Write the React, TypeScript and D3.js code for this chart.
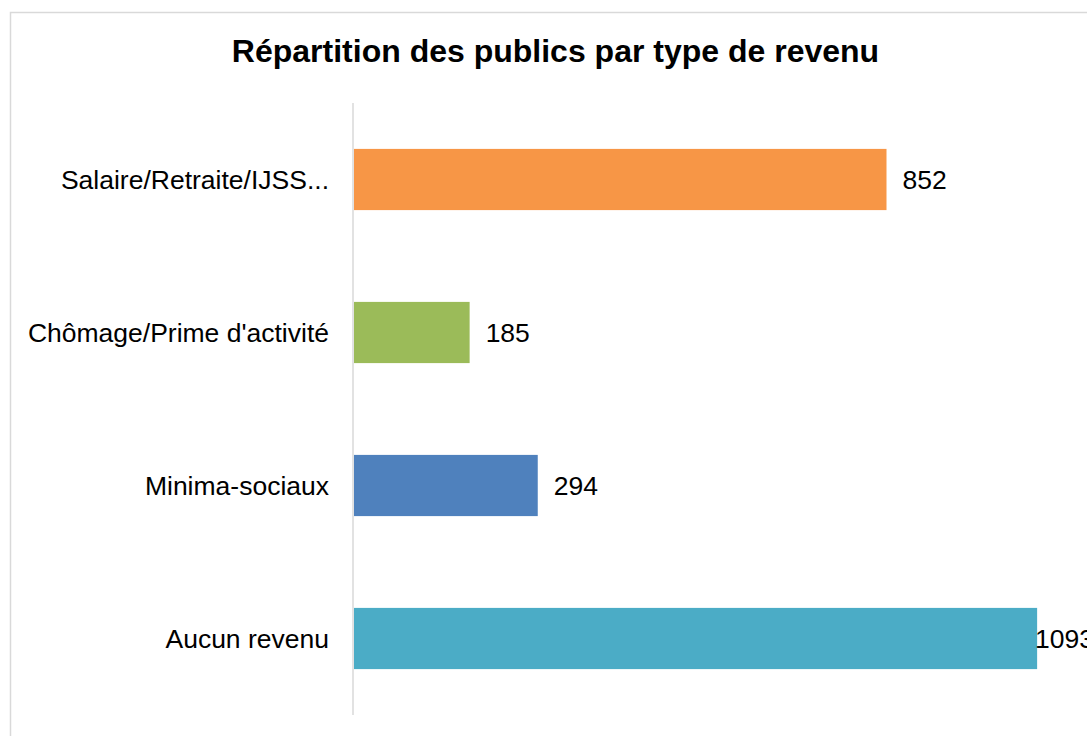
import React from "react";
import * as d3 from "d3";

// values
const categories = [
  "Salaire/Retraite/IJSS...",
  "Chômage/Prime d'activité",
  "Minima-sociaux",
  "Aucun revenu",
];
const values = [852, 185, 294, 1093];
const colors = ["#F79646", "#9BBB59", "#4F81BD", "#4BACC6"];
const title = "Répartition des publics par type de revenu";

export default function App() {
  const width = 1087;
  const height = 736;

  const plot = { left: 354, top: 103, bottom: 715 };

  const yScale = d3
    .scaleBand<string>()
    .domain(categories)
    .range([plot.top, plot.bottom])
    .paddingInner(0.6)
    .paddingOuter(0.3);

  const xScale = d3.scaleLinear().domain([0, 1200]).range([plot.left, 1104]);

  const font = "'Liberation Sans', Arial, sans-serif";

  return (
    <svg
      width={width}
      height={height}
      style={{ position: "absolute", left: 0, top: 0, background: "#fff" }}
    >
      {/* chart border, runs off the right and bottom edges */}
      <rect
        x={10.5}
        y={12.5}
        width={1100}
        height={760}
        fill="#fff"
        stroke="#d9d9d9"
        strokeWidth={1.5}
      />
      <text
        x={555.5}
        y={62}
        textAnchor="middle"
        fontFamily={font}
        fontWeight="bold"
        fontSize={32}
        fill="#000"
      >
        {title}
      </text>

      {categories.map((c, i) => {
        const y = yScale(c)!;
        const bw = yScale.bandwidth();
        const xEnd = xScale(values[i]);
        const labelX = Math.min(xEnd + 16, 1035);
        return (
          <g key={c}>
            <rect
              x={xScale(0)}
              y={y}
              width={xEnd - xScale(0)}
              height={bw}
              fill={colors[i]}
            />
            <text
              x={329}
              y={y + bw / 2}
              dy="0.35em"
              textAnchor="end"
              fontFamily={font}
              fontSize={26.5}
              fill="#000"
            >
              {c}
            </text>
            <text
              x={labelX}
              y={y + bw / 2}
              dy="0.35em"
              fontFamily={font}
              fontSize={26.5}
              fill="#000"
            >
              {values[i]}
            </text>
          </g>
        );
      })}

      <line
        x1={353}
        x2={353}
        y1={plot.top}
        y2={plot.bottom}
        stroke="#d9d9d9"
        strokeWidth={1.5}
      />
    </svg>
  );
}
